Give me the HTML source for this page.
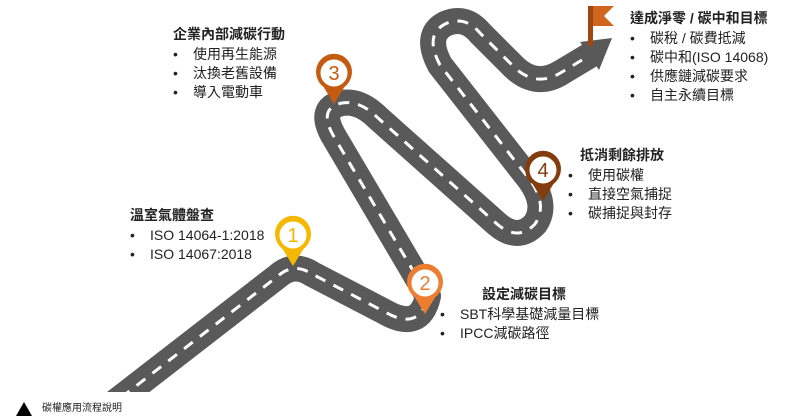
<!DOCTYPE html>
<html><head><meta charset="utf-8"><style>
body{margin:0;width:800px;height:417px;overflow:hidden;background:#fff;position:relative;font-family:"Liberation Sans","Noto Sans CJK TC",sans-serif;color:#222}
.t{position:absolute;font-size:14px;line-height:19px;white-space:nowrap}
.t b{display:block;font-weight:bold;margin-bottom:1px}
.t div{position:relative;padding-left:20px}
.t div:before{content:"•";position:absolute;left:0;font-size:14px}
</style></head><body>
<svg width="800" height="417" style="position:absolute;left:0;top:0">
<defs><clipPath id="c"><rect x="0" y="0" width="800" height="392"/></clipPath></defs>
<g clip-path="url(#c)" fill="none">
<path d="M105 410 L278 276 Q294 262 312 274 L385 312 Q420 332 428 296 L333 135 Q318 108 342 103 Q360 100 378 118 L497 224 Q518 242 535 224 Q548 205 530 180 L440 65 Q424 35 445 24 Q465 15 480 33 L515 68 Q537 88 562 72 L592 54" stroke="#595959" stroke-width="26" stroke-linejoin="round"/>
<path d="M105 410 L278 276 Q294 262 312 274 L385 312 Q420 332 428 296 L333 135 Q318 108 342 103 Q360 100 378 118 L497 224 Q518 242 535 224 Q548 205 530 180 L440 65 Q424 35 445 24 Q465 15 480 33 L515 68 Q537 88 562 72 L582 60" stroke="#fff" stroke-width="3" stroke-dasharray="11 9"/>
</g>
<polygon points="580,42 612,38 599,70" fill="#595959"/>
<rect x="588" y="6" width="5" height="40" fill="#a0470f"/>
<polygon points="593,6 614,6 604,16 614,26 593,26" fill="#d0661e"/>
<g stroke-width="4" fill="#fff">
<path d="M293 266 L282 248 A18 18 0 1 1 304 248 Z" fill="#f5b800" stroke="none"/><circle cx="293" cy="235" r="15.5" stroke="#f5b800"/>
<path d="M425 314 L414 296 A18 18 0 1 1 436 296 Z" fill="#ed7d31" stroke="none"/><circle cx="425" cy="283" r="15.5" stroke="#ed7d31"/>
<path d="M334 104 L323 86 A18 18 0 1 1 345 86 Z" fill="#c55a11" stroke="none"/><circle cx="334" cy="73" r="15.5" stroke="#c55a11"/>
<path d="M543 201 L532 183 A18 18 0 1 1 554 183 Z" fill="#843c0c" stroke="none"/><circle cx="543" cy="170" r="15.5" stroke="#843c0c"/>
</g>
<g font-family="Liberation Sans,sans-serif" font-size="20" text-anchor="middle">
<text x="293" y="242" fill="#f5b800">1</text>
<text x="425" y="290" fill="#ed7d31">2</text>
<text x="334" y="80" fill="#c55a11">3</text>
<text x="543" y="177" fill="#843c0c">4</text>
</g>
<polygon points="16,416 24,402 32,416" fill="#000"/>
</svg>
<div class="t" style="left:42px;top:402px;font-size:10px;line-height:14px">碳權應用流程說明</div>
<div class="t" style="left:130px;top:206px"><b>溫室氣體盤查</b><div>ISO 14064-1:2018</div><div>ISO 14067:2018</div></div>
<div class="t" style="left:173px;top:25px"><b>企業內部減碳行動</b><div>使用再生能源</div><div>汰換老舊設備</div><div>導入電動車</div></div>
<div class="t" style="left:440px;top:285px"><b style="margin-left:42px">設定減碳目標</b><div>SBT科學基礎減量目標</div><div>IPCC減碳路徑</div></div>
<div class="t" style="left:568px;top:146px"><b style="margin-left:12px">抵消剩餘排放</b><div>使用碳權</div><div>直接空氣捕捉</div><div>碳捕捉與封存</div></div>
<div class="t" style="left:630px;top:9px"><b>達成淨零 / 碳中和目標</b><div>碳稅 / 碳費抵減</div><div>碳中和(ISO 14068)</div><div>供應鏈減碳要求</div><div>自主永續目標</div></div>
</body></html>
